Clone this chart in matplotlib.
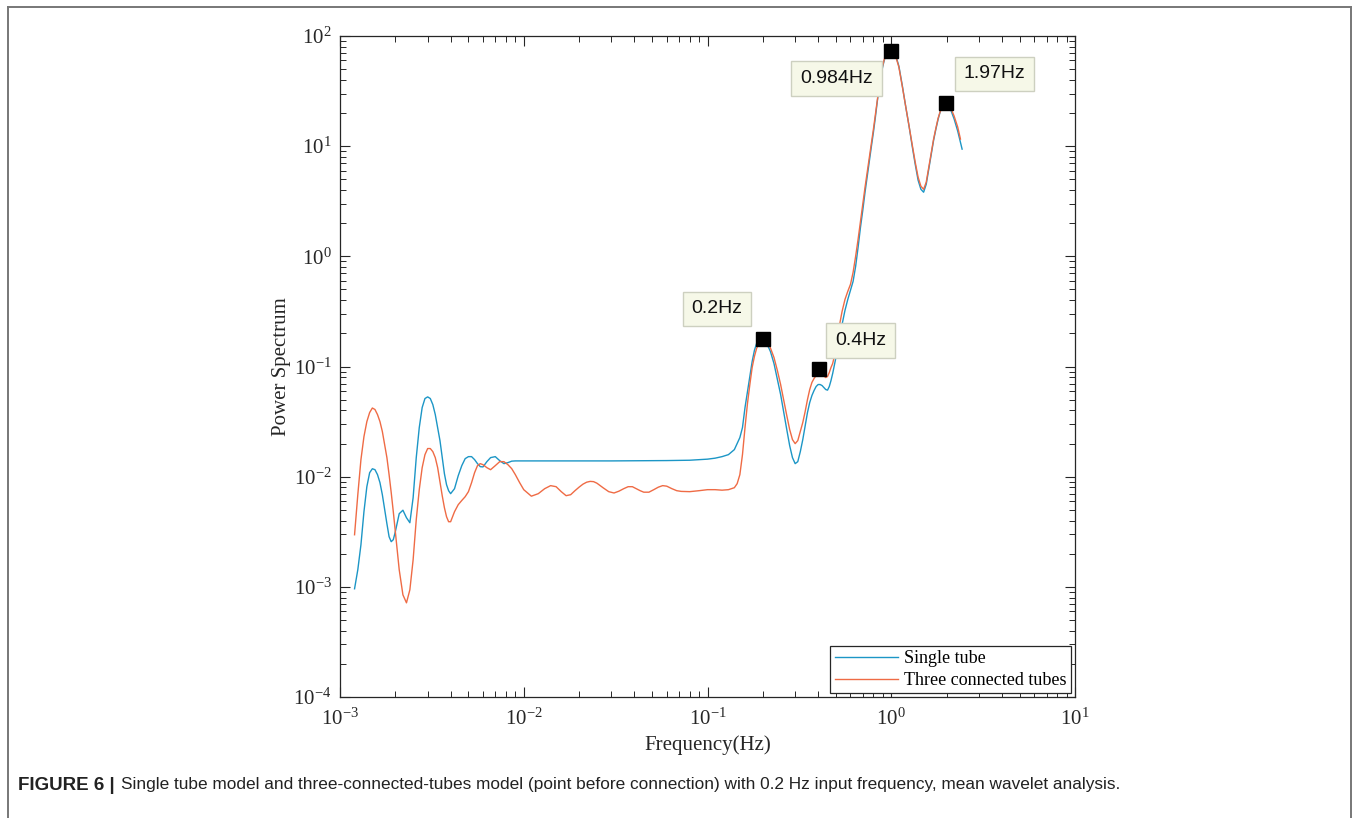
import matplotlib
matplotlib.use("Agg")
import matplotlib.pyplot as plt
from matplotlib.ticker import LogLocator, NullFormatter
from matplotlib.lines import Line2D

plt.rcParams['font.family'] = ['Liberation Serif', 'DejaVu Serif']
plt.rcParams['mathtext.fontset'] = 'stix'

# ---------------- data ----------------
single_freq = [0.0012, 0.00125, 0.0013, 0.00135, 0.0014, 0.00145, 0.0015, 0.00155, 0.0016,
               0.00165, 0.0017, 0.00175, 0.0018, 0.00185, 0.0019, 0.00195, 0.002, 0.0021,
               0.0022, 0.0023, 0.0024, 0.0025, 0.0026, 0.0027, 0.0028, 0.0029, 0.003, 0.0031,
               0.0032, 0.0033, 0.0034, 0.0035, 0.0036, 0.0037, 0.0038, 0.0039, 0.004, 0.0042,
               0.0044, 0.0046, 0.0048, 0.005, 0.0052, 0.0054, 0.0056, 0.0058, 0.006, 0.0063,
               0.0066, 0.007, 0.0074, 0.0078, 0.0082, 0.0086, 0.009, 0.015, 0.03, 0.06, 0.08,
               0.1, 0.11, 0.12, 0.13, 0.14, 0.15, 0.155, 0.16, 0.165, 0.17, 0.175, 0.18, 0.185,
               0.19, 0.195, 0.2, 0.205, 0.21, 0.215, 0.22, 0.23, 0.24, 0.25, 0.26, 0.27, 0.28,
               0.29, 0.3, 0.31, 0.32, 0.33, 0.34, 0.35, 0.36, 0.37, 0.38, 0.39, 0.4, 0.41, 0.42,
               0.43, 0.44, 0.45, 0.46, 0.47, 0.48, 0.5, 0.52, 0.54, 0.56, 0.58, 0.6, 0.62, 0.64,
               0.66, 0.68, 0.7, 0.72, 0.74, 0.76, 0.78, 0.8, 0.82, 0.84, 0.86, 0.88, 0.9, 0.92,
               0.94, 0.96, 0.98, 1.0, 1.03, 1.06, 1.1, 1.15, 1.2, 1.25, 1.3, 1.35, 1.4, 1.45,
               1.5, 1.55, 1.6, 1.65, 1.7, 1.75, 1.8, 1.85, 1.9, 1.95, 2.0, 2.1, 2.2, 2.3, 2.4,
               2.43]
single_power = [0.00096, 0.00143, 0.00241, 0.00481, 0.00811, 0.01087, 0.0118, 0.01157, 0.01043,
                0.00882, 0.00686, 0.00501, 0.00374, 0.00285, 0.00257, 0.00268, 0.00316, 0.00461,
                0.00496, 0.00424, 0.00382, 0.00644, 0.01489, 0.0279, 0.0424, 0.0512, 0.0530, 0.0512,
                0.0451, 0.0366, 0.0279, 0.02125, 0.01489, 0.01065, 0.00846, 0.00746, 0.00701, 0.00778,
                0.01021, 0.01259, 0.01458, 0.0152, 0.0152, 0.01428, 0.01313, 0.01233, 0.01226, 0.01369,
                0.01489, 0.0152, 0.01397, 0.01313, 0.01341, 0.01383, 0.0139, 0.0139, 0.0139, 0.0140, 0.0141,
                0.01442, 0.01472, 0.0152, 0.01585, 0.0176, 0.02263, 0.0279, 0.0424, 0.0593, 0.0811, 0.111, 0.1398, 0.1618,
                0.1742, 0.1786, 0.178, 0.1724, 0.1585, 0.1489, 0.1369, 0.1065, 0.0762, 0.0557, 0.0382, 0.0268, 0.01914,
                0.01489, 0.01313, 0.01369, 0.01688, 0.0217, 0.0291, 0.0382, 0.0471, 0.0545, 0.0605, 0.0658, 0.0686, 0.0686, 0.0672,
                0.0644, 0.0618, 0.061, 0.0658, 0.0746, 0.0864, 0.1208, 0.1724, 0.241, 0.323, 0.406, 0.491, 0.593, 0.811,
                1.208, 1.835, 2.62, 3.82, 5.34, 7.46, 10.0, 13.4, 18.4, 25.6, 34.4, 44.2, 53.4, 61.8,
                68.6, 73.8, 76.2, 76.2, 72.3, 65.8, 53.4, 35.1, 22.6, 15.2, 10.0, 6.86, 4.91, 4.06,
                3.82, 4.51, 6.18, 8.28, 11.3, 14.3, 17.6, 20.8, 23.1, 24.4, 24.6, 21.7, 17.6, 13.7, 10.2,
                9.4]

three_freq = [0.0012, 0.00125, 0.0013, 0.00135, 0.0014, 0.00145, 0.0015, 0.00155, 0.0016,
              0.00165, 0.0017, 0.00175, 0.0018, 0.00185, 0.0019, 0.00195, 0.002, 0.0021,
              0.0022, 0.0023, 0.0024, 0.0025, 0.0026, 0.0027, 0.0028, 0.0029, 0.003, 0.0031,
              0.0032, 0.0033, 0.0034, 0.0035, 0.0036, 0.0037, 0.0038, 0.0039, 0.004, 0.0042,
              0.0044, 0.0046, 0.0048, 0.005, 0.0052, 0.0054, 0.0056, 0.0058, 0.006, 0.0063,
              0.0066, 0.007, 0.0074, 0.0078, 0.0082, 0.0086, 0.009, 0.0095, 0.01,
              0.011, 0.012, 0.013, 0.014, 0.015, 0.016, 0.017, 0.018, 0.019, 0.02, 0.021, 0.022,
              0.023, 0.024, 0.025, 0.027, 0.029, 0.031, 0.033, 0.035, 0.037, 0.039, 0.041, 0.043,
              0.045, 0.048, 0.051, 0.054, 0.057, 0.06, 0.064, 0.068, 0.072, 0.08, 0.09, 0.1, 0.11,
              0.12, 0.13, 0.14, 0.145, 0.15, 0.155, 0.16, 0.165, 0.17, 0.175, 0.18, 0.185, 0.19,
              0.195, 0.2, 0.205, 0.21, 0.215, 0.22, 0.23, 0.24, 0.25, 0.26, 0.27, 0.28, 0.29, 0.3,
              0.31, 0.32, 0.33, 0.34, 0.35, 0.36, 0.37, 0.38, 0.39, 0.4, 0.41, 0.42, 0.43, 0.44,
              0.45, 0.46, 0.47, 0.48, 0.5, 0.52, 0.54, 0.56, 0.58, 0.6, 0.62, 0.64, 0.66, 0.68,
              0.7, 0.72, 0.74, 0.76, 0.78, 0.8, 0.82, 0.84, 0.86, 0.88, 0.9, 0.92, 0.94, 0.96,
              0.98, 1.0, 1.03, 1.06, 1.1, 1.15, 1.2, 1.25, 1.3, 1.35, 1.4, 1.45, 1.5, 1.55, 1.6,
              1.65, 1.7, 1.75, 1.8, 1.85, 1.9, 1.95, 2.0, 2.1, 2.2, 2.3, 2.38]
three_power = [0.00297, 0.00686, 0.01428, 0.0231, 0.0316, 0.0382, 0.0420, 0.0407, 0.0366,
               0.0316, 0.0257, 0.01954, 0.01489, 0.01043, 0.00716, 0.00481, 0.00316, 0.00143,
               0.000846, 0.000716, 0.00094, 0.00176, 0.00407, 0.00762, 0.01207, 0.01585, 0.0180, 0.0180,
               0.01688, 0.01489, 0.01207, 0.00901, 0.00672, 0.00523, 0.00433, 0.0039, 0.0039, 0.00481,
               0.00557, 0.00608, 0.00658, 0.00731, 0.00882, 0.01087, 0.01259, 0.01313, 0.01285, 0.01207,
               0.01157, 0.01259, 0.01369, 0.01369, 0.01285, 0.01182, 0.01043, 0.00882, 0.00762,
               0.00665, 0.00701, 0.00778, 0.00829, 0.00811, 0.00731, 0.00672, 0.00686, 0.00746, 0.00803, 0.00855, 0.00891,
               0.00906, 0.00901, 0.00873, 0.00794, 0.00731, 0.00711, 0.00739, 0.00778, 0.00811, 0.00811, 0.00778, 0.00746,
               0.00723, 0.00723, 0.00762, 0.00803, 0.00829, 0.0082, 0.00778, 0.00746, 0.00735, 0.00731, 0.00746, 0.00762, 0.00762,
               0.00754, 0.00762, 0.00794, 0.00864, 0.01043, 0.01585, 0.0279, 0.0461, 0.0686, 0.098, 0.1233, 0.1459, 0.1618,
               0.1724, 0.176, 0.176, 0.1688, 0.1585, 0.1473, 0.1208, 0.092, 0.0686, 0.0491, 0.0359, 0.0268, 0.0217, 0.01995,
               0.02125, 0.0257, 0.031, 0.039, 0.0501, 0.0618, 0.0716, 0.0778, 0.0828, 0.0864, 0.0864, 0.0846, 0.082, 0.0794,
               0.0811, 0.0882, 0.098, 0.1065, 0.1428, 0.2264, 0.316, 0.406, 0.481, 0.557, 0.716, 1.0, 1.428, 2.08,
               2.97, 4.24, 5.80, 7.94, 10.65, 14.3, 19.5, 26.8, 35.1, 45.2, 54.5, 63.1, 69.3, 74.6,
               76.2, 75.4, 71.6, 64.4, 52.3, 34.4, 22.6, 15.2, 10.2, 7.16, 5.23, 4.33, 4.06, 4.71, 6.44,
               8.64, 11.6, 14.6, 18.0, 20.8, 23.1, 24.4, 24.6, 22.6, 18.7, 14.9, 11.6]

peak_freq = [0.2, 0.403, 0.993, 1.98]
peak_power = [0.176, 0.094, 73.5, 24.6]
peak_labels = ['0.2Hz', '0.4Hz', '0.984Hz', '1.97Hz']
label_offsets = [(-33, 22), (30, 21), (-39, -20), (35, 21)]

series_names = ['Single tube', 'Three connected tubes']
series_colors = ['#1c96c6', '#ef6b45']

caption_bold = 'FIGURE 6 |'
caption_rest = ('Single tube model and three-connected-tubes model (point before connection) '
                'with 0.2 Hz input frequency, mean wavelet analysis.')

# ---------------- figure ----------------
fig = plt.figure(figsize=(13.56, 8.18), dpi=100)
ax = fig.add_axes([340/1356, 1-697/818, 735/1356, 661/818])

ax.plot(single_freq, single_power, color=series_colors[0], lw=1.0, label=series_names[0])
ax.plot(three_freq, three_power, color=series_colors[1], lw=1.0, label=series_names[1])
ax.plot(peak_freq, peak_power, ls='none', marker='s', ms=10, color='black',
        markeredgecolor='black', zorder=5)

for f, p, lab, off in zip(peak_freq, peak_power, peak_labels, label_offsets):
    ax.annotate(lab, xy=(f, p), xytext=off, textcoords='offset points',
                ha='center', va='center', fontsize=14, family='Liberation Sans',
                color='#111111',
                bbox=dict(boxstyle='square,pad=0.45', facecolor='#f6f8e8',
                          edgecolor='#cdd0c0', lw=1.0), zorder=6)

ax.set_xscale('log')
ax.set_yscale('log')
ax.set_xlim(1e-3, 1e1)
ax.set_ylim(1e-4, 1e2)
ax.xaxis.set_major_locator(LogLocator(base=10, numticks=10))
ax.yaxis.set_major_locator(LogLocator(base=10, numticks=10))
ax.xaxis.set_minor_locator(LogLocator(base=10, subs=range(2, 10), numticks=20))
ax.yaxis.set_minor_locator(LogLocator(base=10, subs=range(2, 10), numticks=20))
ax.xaxis.set_minor_formatter(NullFormatter())
ax.yaxis.set_minor_formatter(NullFormatter())
ax.tick_params(which='both', direction='in', top=True, right=True, colors='#262626',
               labelsize=15, labelcolor='#262626')
ax.tick_params(which='major', length=7, width=0.8)
ax.tick_params(which='minor', length=4, width=0.7)
ax.tick_params(axis='x', pad=8)
ax.tick_params(axis='y', pad=6)
for s in ax.spines.values():
    s.set_color('#262626')
    s.set_linewidth(0.9)

ax.set_xlabel('Frequency(Hz)', fontsize=15, color='#262626', labelpad=4)
ax.set_ylabel('Power Spectrum', fontsize=15, color='#262626', labelpad=2)

leg = ax.legend(loc='lower right', fontsize=13, frameon=True, fancybox=False,
                edgecolor='#262626', framealpha=1, handlelength=3.5, borderaxespad=0.2,
                borderpad=0.25, labelspacing=0.25, handletextpad=0.35)
leg.get_frame().set_linewidth(0.9)

# outer frame
for xs, ys in [([8/1356, 8/1356], [0, 1-7/818]), ([8/1356, 1351/1356], [1-7/818, 1-7/818]),
               ([1351/1356, 1351/1356], [1-7/818, 0])]:
    fig.add_artist(Line2D(xs, ys, transform=fig.transFigure, color='#777777', lw=1.4))

# caption
t1 = fig.text(18/1356, 1-785/818, caption_bold, fontsize=13.5, fontweight='bold',
              family='Liberation Sans', va='center', ha='left', color='#222222')
fig.canvas.draw()
bb = t1.get_window_extent(renderer=fig.canvas.get_renderer())
fig.text((bb.x1 + 6)/1356, 1-785/818, caption_rest, fontsize=12.4,
         family='Liberation Sans', va='center', ha='left', color='#222222')

fig.savefig('out.png', dpi=100)
